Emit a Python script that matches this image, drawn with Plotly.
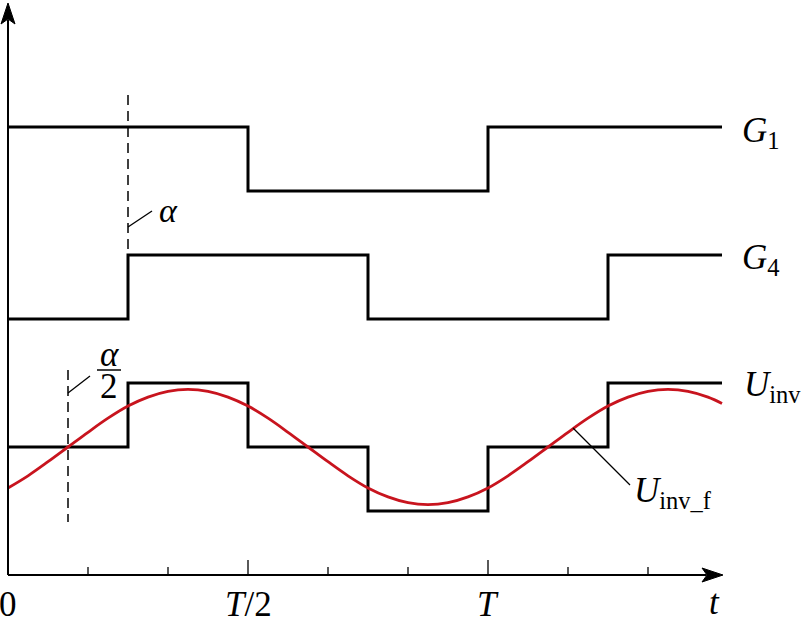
import plotly.graph_objects as go

# ---------------- data (time in units of period T) ----------------
t_edges = [0, 0.25, 0.5, 0.75, 1.0, 1.25, 1.4875]
G1_levels = [1, 1, 0, 0, 1, 1]
G4_levels = [0, 1, 1, 0, 0, 1]
Uinv_levels = [0, 1, 0, -1, 0, 1]
G1_base, G4_base, Uinv_base = 6, 4, 2

uf_t = [k / 24 for k in range(36)] + [1.4875]
uf_y = [1.36, 1.55, 1.77, 2.00, 2.23, 2.45, 2.64, 2.78, 2.87, 2.90, 2.87, 2.78,
        2.64, 2.45, 2.23, 2.00, 1.77, 1.55, 1.36, 1.22, 1.13, 1.10, 1.13, 1.22,
        1.36, 1.55, 1.77, 2.00, 2.23, 2.45, 2.64, 2.78, 2.87, 2.90, 2.87, 2.78, 2.68]

alpha_t = 0.25          # G4 delay
half_alpha_t = 0.125    # zero crossing of filtered wave
tick_t = [k / 6 for k in range(1, 9)]
major_t = [0.5, 1.0]
tick_labels = [(0, "0"), (0.5, "<i>T</i>/2"), (1.0, "<i>T</i>")]

# ---------------- geometry helpers ----------------
W, H = 801, 618
X0PX, Y0PX, SX, SY = 8, 575, 480, 64
def dx(p): return (p - X0PX) / SX
def dy(p): return (Y0PX - p) / SY

BLACK = "#000000"
RED = "#c8141e"
FONT = "Liberation Serif, Times New Roman, serif"

def stairs(levels, base):
    xs = list(t_edges)
    ys = [base + v for v in levels] + [base + levels[-1]]
    return xs, ys

fig = go.Figure()
for lv, base in [(G1_levels, G1_base), (G4_levels, G4_base), (Uinv_levels, Uinv_base)]:
    xs, ys = stairs(lv, base)
    fig.add_trace(go.Scatter(x=xs, y=ys, mode="lines", line=dict(color=BLACK, width=3, shape="hv"),
                             hoverinfo="skip", showlegend=False))

fig.add_trace(go.Scatter(x=uf_t, y=uf_y, mode="lines",
                         line=dict(color=RED, width=2.8, shape="spline", smoothing=1.0),
                         hoverinfo="skip", showlegend=False))

shapes = []
# axes
shapes.append(dict(type="line", x0=0, y0=0, x1=dx(706), y1=0, line=dict(color=BLACK, width=2)))
shapes.append(dict(type="line", x0=0, y0=0, x1=0, y1=dy(20), line=dict(color=BLACK, width=2)))
# arrowheads
shapes.append(dict(type="path",
                   path=f"M {dx(723)},{dy(575)} L {dx(702)},{dy(568)} L {dx(707)},{dy(575)} L {dx(702)},{dy(582)} Z",
                   fillcolor=BLACK, line=dict(color=BLACK, width=1)))
shapes.append(dict(type="path",
                   path=f"M {dx(8)},{dy(3)} L {dx(1)},{dy(24)} L {dx(8)},{dy(19)} L {dx(15)},{dy(24)} Z",
                   fillcolor=BLACK, line=dict(color=BLACK, width=1)))
# ticks
for tt in tick_t:
    h = 15 if any(abs(tt - m) < 1e-9 for m in major_t) else 8
    shapes.append(dict(type="line", x0=tt, y0=0, x1=tt, y1=h / SY, line=dict(color=BLACK, width=1.3)))
# dashed markers
shapes.append(dict(type="line", x0=alpha_t, y0=dy(95), x1=alpha_t, y1=G4_base + 1,
                   line=dict(color=BLACK, width=1.5, dash="10px,6px")))
shapes.append(dict(type="line", x0=half_alpha_t, y0=dy(370), x1=half_alpha_t, y1=dy(522),
                   line=dict(color=BLACK, width=1.5, dash="10px,6px")))
# leader lines
shapes.append(dict(type="line", x0=alpha_t, y0=dy(227), x1=dx(152), y1=dy(211), line=dict(color=BLACK, width=1.3)))
shapes.append(dict(type="line", x0=half_alpha_t, y0=dy(393), x1=dx(90), y1=dy(376), line=dict(color=BLACK, width=1.3)))
shapes.append(dict(type="line", x0=dx(573), y0=dy(428), x1=dx(630), y1=dy(485), line=dict(color=BLACK, width=1.3)))
# fraction bar
shapes.append(dict(type="line", x0=dx(97), y0=dy(370), x1=dx(121), y1=dy(370), line=dict(color=BLACK, width=1.5)))

annotations = []
def txt(x, y, s, size=35, xanchor="center", yanchor="middle"):
    annotations.append(dict(x=x, y=y, text=s, showarrow=False, xanchor=xanchor, yanchor=yanchor,
                            font=dict(family=FONT, size=size, color=BLACK)))

for tt, lab in tick_labels:
    txt(tt, dy(604), lab)
txt(dx(714), dy(602), "<i>t</i>")
txt(dx(740), dy(132), "<i>G</i><sub>1</sub>", xanchor="left")
txt(dx(740), dy(259), "<i>G</i><sub>4</sub>", xanchor="left")
txt(dx(742), dy(386), "<i>U</i><sub>inv</sub>", xanchor="left")
txt(dx(632), dy(492), "<i>U</i><sub>inv_f</sub>", xanchor="left")
txt(dx(168), dy(210), "<i>α</i>", size=34)
txt(dx(109), dy(354), "<i>α</i>", size=35)
txt(dx(109), dy(386), "2", size=35)

fig.update_layout(
    width=W, height=H,
    margin=dict(l=0, r=0, t=0, b=0),
    paper_bgcolor="white", plot_bgcolor="white",
    xaxis=dict(range=[dx(0), dx(W)], visible=False, fixedrange=True),
    yaxis=dict(range=[dy(H), dy(0)], visible=False, fixedrange=True),
    shapes=shapes, annotations=annotations,
)
fig.write_html("out.html", config={"displayModeBar": False},
               post_script="document.body.style.margin='0';")
